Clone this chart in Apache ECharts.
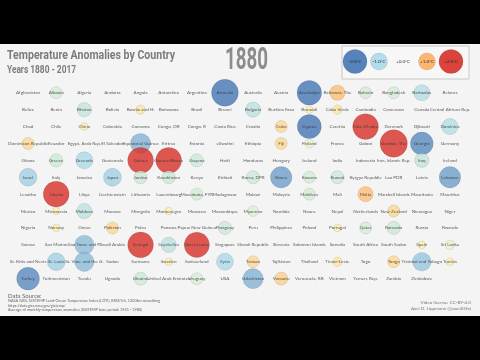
<!DOCTYPE html>
<html><head><meta charset="utf-8">
<script src="https://cdn.jsdelivr.net/npm/echarts@6/dist/echarts.min.js"></script>
<style>html,body{margin:0;padding:0;background:#000}#c{width:480px;height:360px}</style>
</head><body><div id="c"></div>
<script>
const titleText = 'Temperature Anomalies by Country';
const subtitleText = 'Years 1880 - 2017';
const yearText = '1880';
const sourceLines = ['Data Source:',
  'NASA GISS, GISTEMP Land-Ocean Temperature Index (LOTI), ERSSTv5, 1200km smoothing',
  'https://data.giss.nasa.gov/gistemp/',
  'Average of monthly temperature anomalies (GISTEMP base period: 1951 - 1980)'];
const creditLines = ['Video license: CC-BY-4.0', 'Axel D. Lippmann (@axel45fx)'];

const legendLabels = ['-2.0°C','-1.0°C','+0.0°C','+1.0°C','+2.0°C'];
const legendValues = [-2, -1, 0, 1, 2];

const countries = [
 'Afghanistan','Albania','Algeria','Andorra','Angola','Antarctica','Argentina','Armenia','Australia','Austria','Azerbaijan','Bahamas, The','Bahrain','Bangladesh','Barbados','Belarus',
 'Belize','Benin','Bhutan','Bolivia','Bosnia and H.','Botswana','Brazil','Brunei','Bulgaria','Burkina Faso','Burundi','Cabo Verde','Cambodia','Cameroon','Canada','Central African Rep.',
 'Chad','Chile','China','Colombia','Comoros','Congo, DR','Congo, R','Costa Rica','Croatia','Cuba','Cyprus','Czechia',"Côte d'Ivoire",'Denmark','Djibouti','Dominica',
 'Dominican Republic','Ecuador','Egypt, Arab Rep.','El Salvador','Equatorial Guinea','Eritrea','Estonia','eSwatini','Ethiopia','Fiji','Finland','France','Gabon','Gambia, The','Georgia','Germany',
 'Ghana','Greece','Grenada','Guatemala','Guinea','Guinea-Bissau','Guyana','Haiti','Honduras','Hungary','Iceland','India','Indonesia','Iran, Islamic Rep.','Iraq','Ireland',
 'Israel','Italy','Jamaica','Japan','Jordan','Kazakhstan','Kenya','Kiribati','Korea, DPR','Korea','Kosovo','Kuwait','Kyrgyz Republic','Lao PDR','Latvia','Lebanon',
 'Lesotho','Liberia','Libya','Liechtenstein','Lithuania','Luxembourg','Macedonia, FYR','Madagascar','Malawi','Malaysia','Maldives','Mali','Malta','Marshall Islands','Mauritania','Mauritius',
 'Mexico','Micronesia','Moldova','Monaco','Mongolia','Montenegro','Morocco','Mozambique','Myanmar','Namibia','Nauru','Nepal','Netherlands','New Zealand','Nicaragua','Niger',
 'Nigeria','Norway','Oman','Pakistan','Palau','Panama','Papua New Guinea','Paraguay','Peru','Philippines','Poland','Portugal','Qatar','Romania','Russia','Rwanda',
 'Samoa','San Marino','Sao Tome and P.','Saudi Arabia','Senegal','Seychelles','Sierra Leone','Singapore','Slovak Republic','Slovenia','Solomon Islands','Somalia','South Africa','South Sudan','Spain','Sri Lanka',
 'St. Kitts and Nevis','St. Lucia','St. Vinc. and the G.','Sudan','Suriname','Sweden','Switzerland','Syria','Taiwan','Tajikistan','Thailand','Timor-Leste','Togo','Tonga','Trinidad and Tobago','Tunisia',
 'Turkey','Turkmenistan','Tuvalu','Uganda','Ukraine','United Arab Emirates','Uruguay','USA','Uzbekistan','Vanuatu','Venezuela, RB','Vietnam','Yemen, Rep.','Zambia','Zimbabwe'
];

const anomalies = [
 0,-0.5,0,0,0,0,0,-2.5,0,0,-2.1,0.8,-0.5,-0.5,-0.9,0,
 0,0,-0.7,0,0.3,0,0,0,-0.8,0,0.2,0.3,0,0,0,0,
 0,0,0.2,0,0,0,0,0,0,0.5,-2.0,0,2.3,0,0,-0.9,
 0.5,0,0,0,-1.4,0,0,0,0,0.5,-0.3,0,0,2.6,-1.8,0,
 0,-0.6,-1.0,0,2.3,2.3,-0.6,0,0,0,0,0,0,0,-0.7,0,
 -1.1,0,0,-1.1,-0.6,-0.6,0,0,-0.6,-1.6,-0.5,-0.6,0,0,0,-1.6,
 0,2.3,0,0,0,0,-0.5,0,0,0,-0.5,0,0.8,0,0,0,
 0,0.2,-0.8,0,0,0.2,0,0,-0.4,0,0,0,0,0.5,0,0,
 0,0.2,0,0.5,0,0,0,-0.6,0,0,0,0.2,-0.5,-0.6,0,0,
 0,0,-1.3,0,2.3,-0.8,2.2,0,0,0,0,0,0,0,0.2,-0.3,
 0,-1.1,-1.3,0,0,0.2,0,-1.0,0.5,0,0,0.3,0,0.5,-1.2,0.2,
 -1.8,0,0,0,-0.6,0,-0.5,0,-1.4,0.6,0,0,0,0,0
];

const COLS = 16;
const ROWS = Math.ceil(countries.length / COLS);
const points = countries.map((n, i) => [i % COLS, Math.floor(i / COLS), anomalies[i], n]);
const legendPoints = legendValues.map((v, i) => [legendLabels[i], 0, v]);
const sizeOf = v => 17 * Math.sqrt(Math.abs(v));

const ctx = document.createElement('canvas').getContext('2d');
function fitScale(text, font, target) { ctx.font = font; return target / ctx.measureText(text).width; }

const chart = echarts.init(document.getElementById('c'), null, {renderer: 'canvas'});
const gray = '#7c7c7c';
const fTitle = 'bold 12.5px Roboto', fSub = 'bold 11px Roboto', fYear = 'bold 31px Roboto';
const graphics = [
  {type: 'rect', z: -10, shape: {x: 0, y: 44, width: 480, height: 272}, style: {fill: '#f4f4f4'}},
  {type: 'rect', z: -5, shape: {x: 342, y: 46, width: 127, height: 33}, style: {fill: '#f7f7f7', stroke: '#c8c8c8', lineWidth: 1}},
  {type: 'text', x: 7, y: 56, scaleX: fitScale(titleText, fTitle, 168), style: {text: titleText, fill: gray, font: fTitle, verticalAlign: 'middle'}},
  {type: 'text', x: 7, y: 70, scaleX: fitScale(subtitleText, fSub, 69), style: {text: subtitleText, fill: gray, font: fSub, verticalAlign: 'middle'}},
  {type: 'text', x: 246.5, y: 61.5, scaleX: fitScale(yearText, fYear, 43), style: {text: yearText, fill: '#8c8c8c', font: fYear, align: 'center', verticalAlign: 'middle'}}
];
sourceLines.forEach((t, i) => graphics.push({type: 'text', x: 8, y: (i === 0 ? 293 : 299 + (i - 1) * 4.5),
  style: {text: t, fill: '#666', font: (i === 0 ? '6px' : '3.8px') + ' Lato'}}));
creditLines.forEach((t, i) => graphics.push({type: 'text', x: 471, y: 300 + i * 6.5,
  style: {text: t, fill: '#777', font: '4.6px Lato', align: 'right'}}));

chart.setOption({
  backgroundColor: '#000',
  animation: false,
  graphic: graphics,
  grid: [
    {left: 14, width: 450, top: 84.3, height: 202.8, show: false},
    {left: 343, width: 120, top: 46, height: 31, show: false}
  ],
  xAxis: [
    {gridIndex: 0, type: 'value', min: -0.5, max: COLS - 0.5, show: false},
    {gridIndex: 1, type: 'category', data: legendLabels, show: false}
  ],
  yAxis: [
    {gridIndex: 0, type: 'value', min: -0.5, max: ROWS - 0.5, inverse: true, show: false},
    {gridIndex: 1, type: 'value', min: -1, max: 1, show: false}
  ],
  visualMap: {
    show: false, type: 'continuous', min: -2, max: 2, dimension: 2, seriesIndex: [0, 2],
    inRange: {color: ['#4575b4', '#abd9e9', '#ffffbf', '#fdae61', '#d73027']}
  },
  series: [
    {type: 'scatter', xAxisIndex: 0, yAxisIndex: 0, data: points, z: 2,
     symbolSize: d => sizeOf(d[2]),
     itemStyle: {opacity: 0.8, borderColor: 'rgba(0,0,0,0.14)', borderWidth: 0.8}},
    {type: 'scatter', xAxisIndex: 0, yAxisIndex: 0, data: points, z: 5, symbolSize: 0, silent: true,
     label: {show: true, position: 'inside', formatter: p => p.data[3], fontSize: 4.6, color: '#333', fontFamily: 'Lato'}},
    {type: 'scatter', xAxisIndex: 1, yAxisIndex: 1, data: legendPoints, z: 2,
     symbolSize: d => sizeOf(d[2]),
     itemStyle: {opacity: 0.9, borderColor: 'rgba(0,0,0,0.12)', borderWidth: 0.8},
     label: {show: true, position: 'inside', formatter: p => p.data[0], fontSize: 4.6, color: '#222', fontFamily: 'Lato'}}
  ]
});
</script></body></html>
